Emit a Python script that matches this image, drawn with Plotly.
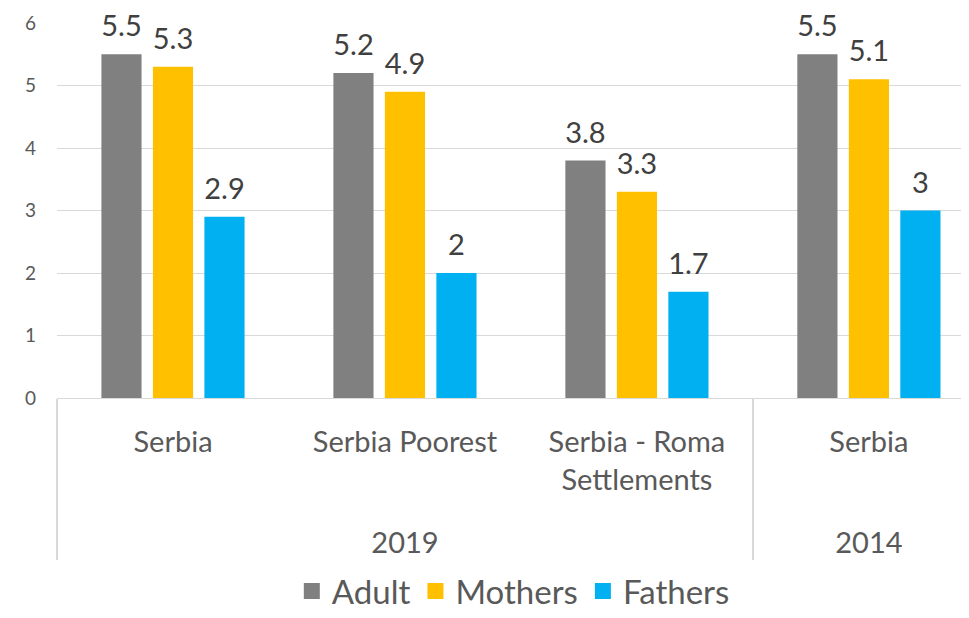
import plotly.graph_objects as go

years = ["2019", "2019", "2019", "2014"]
groups = ["Serbia", "Serbia Poorest",
          "Serbia - Roma<br>Settlements<br><span style='font-size:60px'>\u00a0</span>", "Serbia"]
adult = [5.5, 5.2, 3.8, 5.5]
mothers = [5.3, 4.9, 3.3, 5.1]
fathers = [2.9, 2.0, 1.7, 3.0]
series = [("Adult", adult, "#808080"), ("Mothers", mothers, "#FFC000"), ("Fathers", fathers, "#00B0F0")]

FONT = "Lato"
fig = go.Figure()
for name, vals, col in series:
    fig.add_trace(go.Bar(
        x=[years, groups], y=vals, name=name, showlegend=False,
        marker=dict(color=col, line=dict(width=0)),
        text=[f"<span style='font-size:29px'>{v:g}</span><br>\u00a0" for v in vals],
        textposition="outside", cliponaxis=False, constraintext="none",
        textfont=dict(family=FONT, size=10, color="#404040"),
    ))
for name, vals, col in series:
    fig.add_trace(go.Scatter(
        x=[years[:1], groups[:1]], y=[None], name=name, mode="markers",
        marker=dict(symbol="square", size=20, color=col),
    ))

fig.update_layout(
    width=969, height=618, margin=dict(l=49, r=0, t=15, b=228),
    paper_bgcolor="white", plot_bgcolor="white",
    barmode="group", bargap=0.334, bargroupgap=0.22,
    font=dict(family=FONT, color="#595959"),
    showlegend=True,
    legend=dict(orientation="h", x=0.496, xanchor="center", y=-0.515, yanchor="middle",
                font=dict(size=33, color="#595959"), itemwidth=30, traceorder="normal"),
    yaxis=dict(range=[0, 6], dtick=1, showgrid=True, gridcolor="#d9d9d9", gridwidth=1,
               zeroline=False, showline=False, ticks="", tickfont=dict(size=19, color="#595959"),
               ticklabelstandoff=20, automargin=False),
    xaxis=dict(type="multicategory", range=[-0.5, 3.466], showline=True, linecolor="#d9d9d9", linewidth=1,
               showdividers=True, dividercolor="#d9d9d9", dividerwidth=2, automargin=False,
               tickfont=dict(size=29, color="#595959"), ticks="", ticklabelstandoff=18),
)
fig.write_html("out.html")
